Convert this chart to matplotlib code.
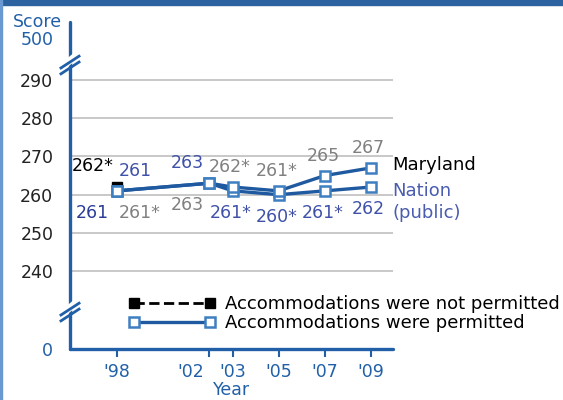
import matplotlib
matplotlib.use("Agg")
import matplotlib.pyplot as plt
from matplotlib.patches import Rectangle
from matplotlib.lines import Line2D
from matplotlib.transforms import ScaledTranslation

# data
years = [1998, 2002, 2003, 2005, 2007, 2009]
year_labels = ["'98", "'02", "'03", "'05", "'07", "'09"]
maryland = [261, 263, 262, 261, 265, 267]
nation = [261, 263, 261, 260, 261, 262]
not_perm_years = [1998]
not_perm_maryland = [262]
not_perm_nation = [261]
grid_values = [240, 250, 260, 270, 280, 290]

# labels above the Maryland line / below the Nation line
top_text = ["261", "263", "262*", "261*", "265", "267"]
bottom_text = ["261*", "263", "261*", "260*", "261*", "262"]

axis_blue = "#2160a8"
label_blue = "#3f51a8"
gray = "#808080"

plt.rcParams['font.family'] = ['DejaVu Sans']

fig = plt.figure(figsize=(5.63, 4.0), dpi=100)
fig.patches.append(Rectangle((0, 395 / 400), 1, 5 / 400, transform=fig.transFigure,
                             color="#2d62a0", zorder=0))
fig.patches.append(Rectangle((0, 0), 2 / 563, 1, transform=fig.transFigure,
                             color="#6a98d0", zorder=0))

ax = fig.add_axes([70 / 563, 51 / 400, 323 / 563, 327 / 400])
ylo, yhi = 219.7, 305.1
ax.set_xlim(1995.96, 2009.95)
ax.set_ylim(ylo, yhi)

for s in ["top", "right"]:
    ax.spines[s].set_visible(False)
for s in ["left", "bottom"]:
    ax.spines[s].set_color(axis_blue)
    ax.spines[s].set_linewidth(2.4)
    ax.spines[s].set_capstyle("round")

ax.hlines(grid_values, 1995.96, 2009.95, color="#c4c4c4", lw=1.3, zorder=1)

ax.set_yticks([ylo] + grid_values)
ax.set_yticklabels(["0"] + [str(v) for v in grid_values])
ax.tick_params(axis="y", length=0, pad=12, labelsize=12.5, labelcolor="#222222")
ax.get_yticklabels()[0].set_color(axis_blue)

ax.set_xticks(years)
ax.set_xticklabels(year_labels)
ax.tick_params(axis="x", length=6, width=1.5, color=axis_blue, pad=4,
               labelsize=12.5, labelcolor=axis_blue)
# '02 label sits left of its tick in the original
lbl = ax.get_xticklabels()[1]
lbl.set_transform(lbl.get_transform() + ScaledTranslation(-0.19, 0, fig.dpi_scale_trans))
ax.set_xlabel("Year", color=axis_blue, fontsize=12.5, labelpad=0)

fig.text(37 / 563, 1 - 22 / 400, "Score", color=axis_blue, fontsize=12.5, ha="center", va="center")
fig.text(37 / 563, 1 - 40 / 400, "500", color=axis_blue, fontsize=12.5, ha="center", va="center")

# axis breaks
for yb in [0.8685, 0.113]:
    ax.plot([-0.02, 0.02], [yb - 0.003, yb + 0.03], transform=ax.transAxes, color="white",
            lw=5, clip_on=False, zorder=5, solid_capstyle="butt")
    for off in [-0.009, 0.009]:
        ax.plot([-0.028, 0.028], [yb + off - 0.018, yb + off + 0.018], transform=ax.transAxes,
                color=axis_blue, lw=2, clip_on=False, zorder=6)

# not permitted points
np_style = dict(color="black", ls="--", lw=2, marker="s", ms=7, mfc="black", mec="black")
ax.plot(not_perm_years, not_perm_maryland, zorder=3, **np_style)
ax.plot(not_perm_years, not_perm_nation, zorder=3, **np_style)

p_style = dict(color="#1f5aa0", lw=2.4, marker="s", ms=7.5, mfc="white", mec="#3d7fc0", mew=1.8)
ax.plot(years, nation, zorder=4, **p_style)
ax.plot(years, maryland, zorder=4, **p_style)

# value labels
fs = 12.5
top_dx = [18, -22, -3, -2, -2, -3]
bot_dx = [23, -22, -2, -2, -2, -3]
top_col = [label_blue, label_blue, gray, gray, gray, gray]
bot_col = [gray, gray, label_blue, label_blue, label_blue, label_blue]
for i, yr in enumerate(years):
    ax.annotate(top_text[i], (yr, maryland[i]), xytext=(top_dx[i], 20), textcoords="offset pixels",
                ha="center", va="center", fontsize=fs, color=top_col[i])
    ax.annotate(bottom_text[i], (yr, nation[i]), xytext=(bot_dx[i], -22), textcoords="offset pixels",
                ha="center", va="center", fontsize=fs, color=bot_col[i])
ax.annotate("262*", (not_perm_years[0], not_perm_maryland[0]), xytext=(-24, 21),
            textcoords="offset pixels", ha="center", va="center", fontsize=fs, color="black")
ax.annotate("261", (not_perm_years[0], not_perm_nation[0]), xytext=(-25, -22),
            textcoords="offset pixels", ha="center", va="center", fontsize=fs, color="#2a3c96")

# series names
ax.annotate("Maryland", (years[-1], maryland[-1]), xytext=(21, 3), textcoords="offset pixels",
            ha="left", va="center", fontsize=13, color="black", annotation_clip=False)
ax.annotate("Nation\n(public)", (years[-1], nation[-1]), xytext=(21, -15), textcoords="offset pixels",
            ha="left", va="center", fontsize=13, color="#4a5cb0", linespacing=1.25,
            annotation_clip=False)

# legend
h1 = Line2D([], [], **np_style)
h2 = Line2D([], [], **p_style)
ax.legend([h1, h2], ["Accommodations were not permitted", "Accommodations were permitted"],
          loc="upper left", bbox_to_anchor=(0.16, 0.187), frameon=False, numpoints=2,
          handlelength=4.8, handletextpad=0.5, fontsize=13, labelspacing=0.05,
          borderaxespad=0)

fig.savefig("out.png", dpi=100)
